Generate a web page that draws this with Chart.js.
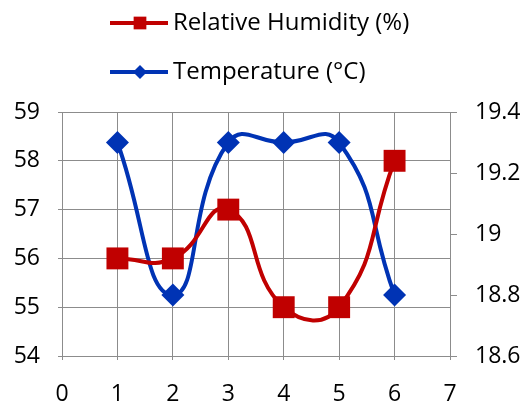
<!DOCTYPE html>
<html>
<head>
<meta charset="utf-8">
<script src="https://cdn.jsdelivr.net/npm/chart.js@4.4.1/dist/chart.umd.min.js"></script>
<style>
  html, body { margin: 0; padding: 0; background: #fff; }
  #wrap { width: 523px; height: 408px; }
</style>
</head>
<body>
<div id="wrap"><canvas id="chart"></canvas></div>
<script>
// ---------------- DATA ----------------
const xValues = [1, 2, 3, 4, 5, 6];
const humidity = [56, 56, 57, 55, 55, 58];
const temperature = [19.3, 18.8, 19.3, 19.3, 19.3, 18.8];
const humidityLabel = "Relative Humidity (%)";
const temperatureLabel = "Temperature (\u00B0C)";

const FONT = "'Open Sans'";
const GRID = "#8c8c8c";

// ---------------- LEGEND ----------------
// two rows, left aligned block, line + marker like Excel
const stackedLegend = {
  id: "stackedLegend",
  afterDraw(chart) {
    const ctx = chart.ctx;
    chart.data.datasets.forEach((ds, i) => {
      const y = 23 + i * 49;
      ctx.save();
      ctx.strokeStyle = ds.borderColor;
      ctx.lineWidth = 4;
      ctx.beginPath();
      ctx.moveTo(110, y);
      ctx.lineTo(168, y);
      ctx.stroke();
      ctx.fillStyle = ds.pointBackgroundColor;
      Chart.helpers.drawPoint(ctx, {
        pointStyle: ds.pointStyle,
        radius: ds.pointStyle === "rect" ? 9 : 7,
        rotation: 0,
        borderWidth: 0
      }, 140, y);
      ctx.fillStyle = "#000";
      ctx.font = "24px " + FONT;
      ctx.textBaseline = "middle";
      ctx.textAlign = "left";
      ctx.fillText(ds.label, 173, y);
      ctx.restore();
    });
  }
};

// ---------------- CHART ----------------
const ctx = document.getElementById("chart").getContext("2d");
new Chart(ctx, {
  type: "line",
  data: {
    datasets: [{
      label: humidityLabel,
      data: xValues.map((x, i) => ({ x: x, y: humidity[i] })),
      yAxisID: "y",
      borderColor: "#c00000",
      backgroundColor: "#c00000",
      pointBackgroundColor: "#c00000",
      pointBorderWidth: 0,
      pointStyle: "rect",
      pointRadius: 15.5,
      borderWidth: 4,
      tension: 0.5
    }, {
      label: temperatureLabel,
      data: xValues.map((x, i) => ({ x: x, y: temperature[i] })),
      yAxisID: "y1",
      borderColor: "#0033b4",
      backgroundColor: "#0033b4",
      pointBackgroundColor: "#0033b4",
      pointBorderWidth: 0,
      pointStyle: "rectRot",
      pointRadius: 11.5,
      borderWidth: 4,
      tension: 0.5
    }]
  },
  options: {
    responsive: true,
    maintainAspectRatio: false,
    animation: false,
    layout: { padding: { top: 112, left: 0, right: 0, bottom: 0 } },
    plugins: {
      legend: { display: false },
      tooltip: { enabled: false }
    },
    scales: {
      x: {
        type: "linear",
        min: 0,
        max: 7,
        afterFit: s => { s.height = 52; },
        grid: { color: GRID, tickLength: 4, drawTicks: true },
        border: { color: GRID },
        ticks: { stepSize: 1, color: "#000", padding: 21, font: { family: FONT, size: 23 } }
      },
      y: {
        position: "left",
        min: 54,
        max: 59,
        afterFit: s => { s.width = 62; },
        grid: { color: GRID, tickLength: 4 },
        border: { color: GRID },
        ticks: { stepSize: 1, color: "#000", padding: 18, font: { family: FONT, size: 23 } }
      },
      y1: {
        position: "right",
        min: 18.6,
        max: 19.4,
        afterFit: s => { s.width = 73; },
        grid: { drawOnChartArea: false, color: GRID, tickLength: 7 },
        border: { color: GRID },
        ticks: {
          stepSize: 0.2,
          color: "#000",
          padding: 18,
          font: { family: FONT, size: 23 },
          callback: value => String(+value.toFixed(1))
        }
      }
    }
  },
  plugins: [stackedLegend]
});
</script>
</body>
</html>
